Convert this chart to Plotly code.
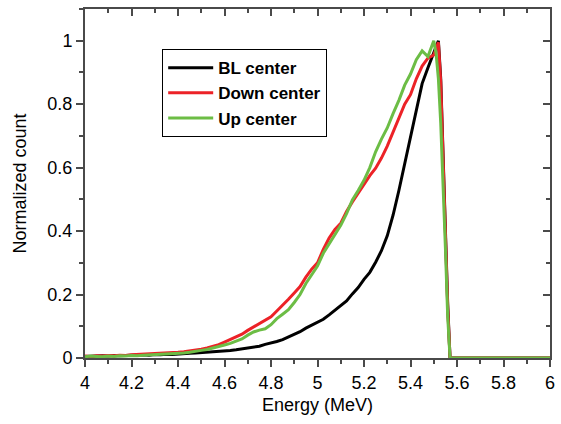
import plotly.graph_objects as go

energy = [4.000, 4.025, 4.050, 4.075, 4.100, 4.125, 4.150, 4.175, 4.200, 4.225,
          4.250, 4.275, 4.300, 4.325, 4.350, 4.375, 4.400, 4.425, 4.450, 4.475,
          4.500, 4.525, 4.550, 4.575, 4.600, 4.625, 4.650, 4.675, 4.700, 4.725,
          4.750, 4.775, 4.800, 4.825, 4.850, 4.875, 4.900, 4.925, 4.950, 4.975,
          5.000, 5.025, 5.050, 5.075, 5.100, 5.125, 5.150, 5.175, 5.200, 5.225,
          5.250, 5.275, 5.300, 5.325, 5.350, 5.375, 5.400, 5.425, 5.450, 5.475,
          5.500, 5.510, 5.520, 5.530, 5.540, 5.550, 5.560, 5.570, 5.600, 6.000]

bl_center = [0.005, 0.006, 0.005, 0.007, 0.006, 0.008, 0.007, 0.008, 0.008, 0.009,
             0.010, 0.009, 0.011, 0.010, 0.012, 0.011, 0.013, 0.014, 0.015, 0.016,
             0.017, 0.018, 0.019, 0.021, 0.022, 0.024, 0.026, 0.029, 0.031, 0.034,
             0.037, 0.043, 0.047, 0.052, 0.058, 0.066, 0.075, 0.083, 0.094, 0.104,
             0.114, 0.122, 0.136, 0.150, 0.166, 0.180, 0.202, 0.222, 0.248, 0.270,
             0.302, 0.338, 0.385, 0.450, 0.528, 0.612, 0.700, 0.790, 0.865, 0.915,
             0.965, 0.985, 1.000, 0.880, 0.640, 0.400, 0.170, 0.000, 0.000, 0.000]

down_center = [0.006, 0.005, 0.007, 0.006, 0.008, 0.007, 0.009, 0.008, 0.010, 0.011,
               0.010, 0.012, 0.013, 0.014, 0.016, 0.015, 0.018, 0.020, 0.022, 0.025,
               0.028, 0.032, 0.037, 0.042, 0.050, 0.058, 0.066, 0.075, 0.087, 0.098,
               0.108, 0.118, 0.130, 0.148, 0.165, 0.185, 0.205, 0.225, 0.255, 0.280,
               0.300, 0.342, 0.378, 0.405, 0.425, 0.462, 0.492, 0.520, 0.550, 0.575,
               0.598, 0.630, 0.668, 0.712, 0.760, 0.800, 0.830, 0.880, 0.920, 0.945,
               0.955, 0.975, 0.995, 0.870, 0.630, 0.390, 0.160, 0.000, 0.000, 0.000]

up_center = [0.004, 0.006, 0.005, 0.004, 0.006, 0.005, 0.007, 0.006, 0.008, 0.007,
             0.009, 0.010, 0.009, 0.011, 0.012, 0.013, 0.013, 0.016, 0.018, 0.020,
             0.024, 0.027, 0.031, 0.036, 0.041, 0.046, 0.052, 0.060, 0.072, 0.082,
             0.088, 0.092, 0.105, 0.124, 0.138, 0.152, 0.175, 0.200, 0.235, 0.262,
             0.290, 0.330, 0.360, 0.388, 0.418, 0.455, 0.498, 0.528, 0.560, 0.600,
             0.650, 0.690, 0.725, 0.770, 0.812, 0.860, 0.895, 0.940, 0.968, 0.950,
             1.000, 0.960, 0.880, 0.740, 0.560, 0.350, 0.130, 0.000, 0.000, 0.000]

series_names = ["BL center", "Down center", "Up center"]
series_colors = ["#000000", "#ec2227", "#6cbd45"]
x_ticks = [4, 4.2, 4.4, 4.6, 4.8, 5, 5.2, 5.4, 5.6, 5.8, 6]
y_ticks = [0, 0.2, 0.4, 0.6, 0.8, 1]

fig = go.Figure()
for name, vals, col in zip(series_names, [bl_center, down_center, up_center], series_colors):
    fig.add_trace(go.Scatter(x=energy, y=vals, mode="lines", name=name,
                             line=dict(color=col, width=3)))

# invisible trace to hold the mirrored (inside-tick) axes
fig.add_trace(go.Scatter(x=[4], y=[0], xaxis="x2", yaxis="y2", mode="markers",
                         marker=dict(opacity=0), showlegend=False, hoverinfo="skip"))

axis_col = "#4a4a4a"
fam = "Liberation Sans, Arial"
tickfont = dict(family=fam, size=18, color="black")

fig.update_layout(
    width=561, height=424,
    margin=dict(l=85, r=6, t=9, b=66),
    paper_bgcolor="white", plot_bgcolor="white",
    showlegend=True,
    legend=dict(x=0.166, y=0.885, xanchor="left", yanchor="top",
                bordercolor="black", borderwidth=1, bgcolor="white",
                font=dict(family=fam, size=17, color="black", weight="bold"),
                tracegroupgap=0, itemwidth=45),
    xaxis=dict(range=[4, 6], tickvals=x_ticks, ticktext=[f"{v:g}" for v in x_ticks],
               showgrid=False, zeroline=False, showline=True, linecolor=axis_col, linewidth=2,
               mirror=True, ticks="outside", ticklen=7, tickwidth=1.5, tickcolor=axis_col,
               minor=dict(dtick=0.1, tick0=4, ticks="outside", ticklen=4, tickwidth=1.5, tickcolor=axis_col, showgrid=False),
               tickfont=tickfont,
               title=dict(text="Energy (MeV)", font=dict(family=fam, size=18, color="black"), standoff=7)),
    yaxis=dict(range=[0, 1.1], tickvals=y_ticks, ticktext=[f"{v:g}" for v in y_ticks],
               showgrid=False, zeroline=False, showline=True, linecolor=axis_col, linewidth=2,
               mirror=True, ticks="outside", ticklen=7, tickwidth=1.5, tickcolor=axis_col,
               minor=dict(dtick=0.1, tick0=0, ticks="outside", ticklen=4, tickwidth=1.5, tickcolor=axis_col, showgrid=False),
               tickfont=tickfont,
               title=dict(text="Normalized count", font=dict(family=fam, size=18, color="black"), standoff=16)),
    xaxis2=dict(range=[4, 6], overlaying="x", side="top", anchor="y2", tickvals=x_ticks,
                showticklabels=False, showgrid=False, zeroline=False, showline=False,
                ticks="inside", ticklen=7, tickwidth=1.5, tickcolor=axis_col,
                minor=dict(dtick=0.1, tick0=4, ticks="inside", ticklen=4, tickwidth=1.5, tickcolor=axis_col, showgrid=False)),
    yaxis2=dict(range=[0, 1.1], overlaying="y", side="right", anchor="x2", tickvals=y_ticks,
                showticklabels=False, showgrid=False, zeroline=False, showline=False,
                ticks="inside", ticklen=7, tickwidth=1.5, tickcolor=axis_col,
                minor=dict(dtick=0.1, tick0=0, ticks="inside", ticklen=4, tickwidth=1.5, tickcolor=axis_col, showgrid=False)),
)

fig.write_html("out.html")
